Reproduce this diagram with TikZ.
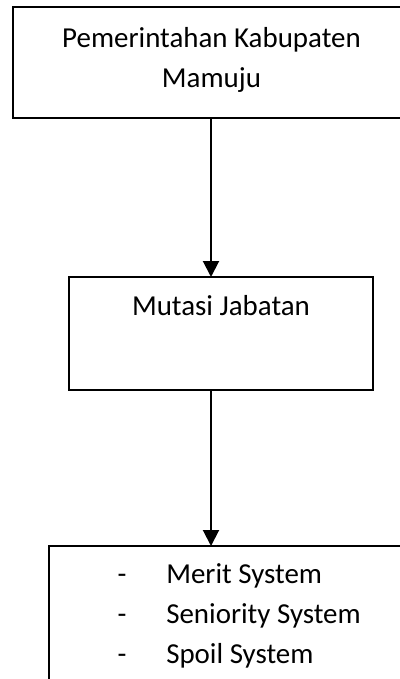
\documentclass[tikz,border=0pt]{standalone}
\usepackage{fontspec}
\setmainfont{Carlito}
\usetikzlibrary{arrows.meta}
\begin{document}
\begin{tikzpicture}[x=0.75pt,y=-0.75pt,
  box/.style={draw,line width=1.5pt,anchor=north west,inner sep=0pt,outer sep=0pt},
  lbl/.style={anchor=base,inner sep=0pt,font=\fontsize{21.7}{30}\selectfont},
  lblw/.style={anchor=base west,inner sep=0pt,font=\fontsize{21.7}{30}\selectfont},
  arr/.style={line width=1.5pt,-{Triangle[width=12pt,length=12pt]}}]
\useasboundingbox (0,0) rectangle (400,679);
\clip (0,0) rectangle (400,679);
\node[box,minimum width=297.75pt,minimum height=83.25pt] (a) at (13,7) {};
\node[box,minimum width=228pt,minimum height=84.75pt] (b) at (69,277) {};
\node[box,minimum width=278.25pt,minimum height=115.5pt] (c) at (49,546) {};
\node[lbl] (t1) at (211.5,47) {Pemerintahan Kabupaten};
\node[lbl] (t2) at (211.5,87) {Mamuju};
\node[lbl] (t3) at (221,315) {Mutasi Jabatan};
\node[lbl] (d1) at (122,583) {-};
\node[lbl] (d2) at (122,623) {-};
\node[lbl] (d3) at (122,663) {-};
\node[lblw] (l1) at (166,583) {Merit System};
\node[lblw] (l2) at (166,623) {Seniority System};
\node[lblw] (l3) at (166,663) {Spoil System};
\coordinate (x1) at (211,0);
\draw[arr] (a.south -| x1) -- (b.north -| x1);
\draw[arr] (b.south -| x1) -- (c.north -| x1);
\end{tikzpicture}
\end{document}
